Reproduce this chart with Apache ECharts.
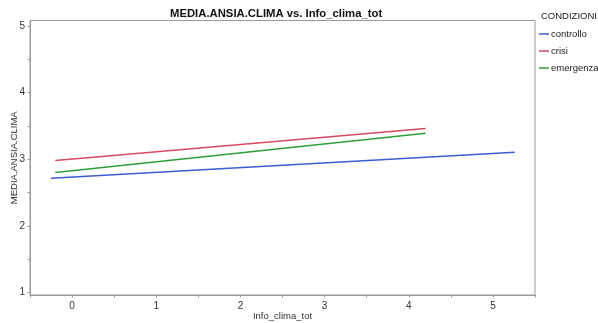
<!DOCTYPE html>
<html>
<head>
<meta charset="utf-8">
<script src="https://cdn.jsdelivr.net/npm/echarts@6/dist/echarts.min.js"></script>
<style>
  html, body { margin: 0; padding: 0; background: #fff; }
  #chart { width: 598px; height: 323px; }
</style>
</head>
<body>
<div id="chart"></div>
<script>
// Fitted regression lines of MEDIA.ANSIA.CLIMA on Info_clima_tot, one per condition
const conditions = ['controllo', 'crisi', 'emergenza'];
const lineColors = ['#3b5bd0', '#d44a63', '#2f9e3a'];
const xStart = [-0.25, -0.2, -0.2];
const xEnd = [5.26, 4.2, 4.2];
const yStart = [2.715, 2.98, 2.80];
const yEnd = [3.105, 3.46, 3.39];

const xTicks = [-0.5, 0, 0.5, 1, 1.5, 2, 2.5, 3, 3.5, 4, 4.5, 5, 5.5];
const xLabels = [0, 1, 2, 3, 4, 5];
const yTicks = [1, 1.5, 2, 2.5, 3, 3.5, 4, 4.5, 5];
const yLabels = [1, 2, 3, 4, 5];

const font = 'Liberation Sans, Arial, sans-serif';

const series = conditions.map((name, i) => ({
  name: name,
  type: 'line',
  data: [[xStart[i], yStart[i]], [xEnd[i], yEnd[i]]],
  showSymbol: false,
  lineStyle: { color: lineColors[i], width: 1.5 },
  itemStyle: { color: lineColors[i] },
  silent: true,
  z: 3
}));

const chart = echarts.init(document.getElementById('chart'), null, { renderer: 'canvas' });
chart.setOption({
  animation: false,
  backgroundColor: '#ffffff',
  title: {
    text: 'MEDIA.ANSIA.CLIMA vs. Info_clima_tot',
    left: 165,
    top: 3,
    textStyle: { fontFamily: font, fontSize: 11.3, fontWeight: 'bold', color: '#111' }
  },
  graphic: [{
    type: 'text',
    left: 541,
    top: 11,
    style: { text: 'CONDIZIONI', font: '9.5px ' + font, fill: '#222' }
  }],
  legend: {
    orient: 'vertical',
    left: 539,
    top: 28,
    padding: 0,
    itemWidth: 10,
    itemHeight: 1.5,
    itemGap: 5,
    icon: 'rect',
    data: conditions,
    textStyle: { fontFamily: font, fontSize: 9.5, color: '#222', padding: [0, 0, 0, -3], lineHeight: 12 }
  },
  grid: {
    left: 30, right: 63, top: 20.5, bottom: 28,
    outerBoundsMode: 'none',
    containLabel: false,
    show: true, borderColor: '#999', borderWidth: 1
  },
  xAxis: {
    type: 'value',
    min: -0.5,
    max: 5.5,
    name: 'Info_clima_tot',
    nameLocation: 'middle',
    nameGap: 16,
    nameMoveOverlap: false,
    nameTextStyle: { fontFamily: font, fontSize: 9.5, color: '#333' },
    axisLine: { show: true, onZero: false, lineStyle: { color: '#999', width: 1 } },
    axisTick: { show: true, length: 2.5, lineStyle: { color: '#999' }, customValues: xTicks },
    axisLabel: { fontFamily: font, fontSize: 10, color: '#333', margin: 6, customValues: xLabels },
    splitLine: { show: false }
  },
  yAxis: {
    type: 'value',
    min: 0.965,
    max: 5.08,
    name: 'MEDIA.ANSIA.CLIMA',
    nameLocation: 'middle',
    nameGap: 11,
    nameMoveOverlap: false,
    nameTextStyle: { fontFamily: font, fontSize: 9.5, color: '#333' },
    axisLine: { show: true, onZero: false, lineStyle: { color: '#999', width: 1 } },
    axisTick: { show: true, length: 2.5, lineStyle: { color: '#999' }, customValues: yTicks },
    axisLabel: { fontFamily: font, fontSize: 10, color: '#333', margin: 5, customValues: yLabels },
    splitLine: { show: false }
  },
  series: series
});
</script>
</body>
</html>
